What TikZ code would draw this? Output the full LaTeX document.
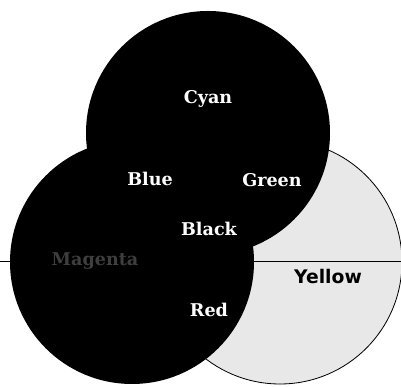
\documentclass[tikz,border=0pt]{standalone}
\usepackage{fontspec}
\usepackage{tikz}
\usetikzlibrary{positioning}
\newfontfamily\vnserif{DejaVu Serif}
\newfontfamily\vnsans{DejaVu Sans}
\definecolor{inkblack}{HTML}{000000}
\definecolor{dotgrey}{HTML}{E8E8E8}
\definecolor{faintgrey}{HTML}{3E3E3E}
\tikzset{
  vn disc/.style={circle, minimum size=7.32cm, inner sep=0pt},
  vn ink/.style={vn disc, fill=inkblack},
  vn paper/.style={vn disc, draw=inkblack, line width=0.7pt, fill=dotgrey},
  vn lab/.style={font=\vnserif\fontsize{15}{17}\selectfont\bfseries, text=white, inner sep=1pt},
  vn rule/.style={line width=0.8pt, inkblack},
}
\begin{document}
\begin{tikzpicture}
  \useasboundingbox (0,0) rectangle (12.03,11.61);
  % yellow disc sits underneath, cut by the rule
  \node[vn paper] (yel) at (8.40,3.75) {};
  \coordinate (rw) at (0,3.78);
  \coordinate (re) at (12.03,3.78);
  \draw[vn rule] (rw) -- (re);
  % the two solid discs
  \node[vn ink] (mag) at (3.96,3.75) {};
  \node[vn ink] (cya) at (6.24,7.62) {};
  % labels
  \node[vn lab] (lcya) at (6.24,8.64) {Cyan};
  \node[vn lab] (lblu) at (4.50,6.24) {Blue};
  \node[vn lab] (lgre) at (8.16,6.21) {Green};
  \node[vn lab] (lbla) at (6.27,4.74) {Black};
  \node[vn lab, text=faintgrey] (lmag) at (2.85,3.78) {Magenta};
  \node[vn lab] (lred) at (6.27,2.31) {Red};
  \node[vn lab, text=inkblack, font=\vnsans\fontsize{16}{18}\selectfont\bfseries] (lyel) at (9.84,3.30) {Yellow};
\end{tikzpicture}
\end{document}
